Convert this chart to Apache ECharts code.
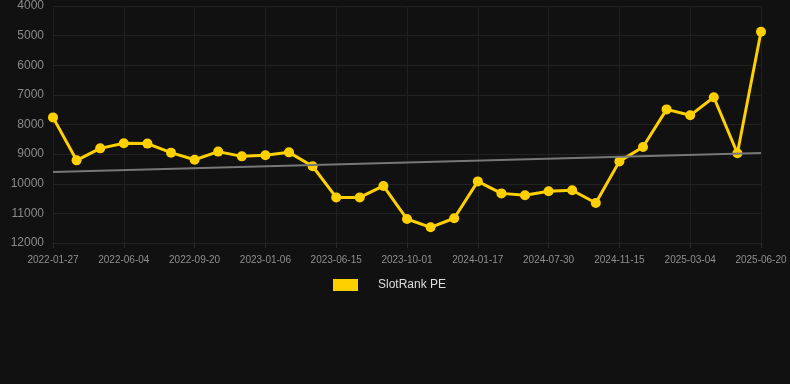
<!DOCTYPE html>
<html>
<head>
<meta charset="utf-8">
<script src="https://cdn.jsdelivr.net/npm/echarts@6/dist/echarts.min.js"></script>
<style>
html,body{margin:0;padding:0;background:#111111;}
#main{width:790px;height:384px;}
</style>
</head>
<body>
<div id="main"></div>
<script>
var categories = [
  "2022-01-27","2022-03-11","2022-04-23","2022-06-04","2022-07-10","2022-08-15",
  "2022-09-20","2022-10-26","2022-12-01","2023-01-06","2023-02-28","2023-04-22",
  "2023-06-15","2023-07-21","2023-08-26","2023-10-01","2023-11-06","2023-12-12",
  "2024-01-17","2024-03-22","2024-05-26","2024-07-30","2024-09-04","2024-10-10",
  "2024-11-15","2024-12-21","2025-01-26","2025-03-04","2025-04-09","2025-05-15",
  "2025-06-20"
];
var rankValues = [
  7760, 9210, 8805, 8635, 8645, 8950,
  9190, 8915, 9075, 9040, 8940, 9410,
  10460, 10460, 10075, 11190, 11470, 11165,
  9920, 10325, 10390, 10255, 10220, 10650,
  9245, 8760, 7490, 7690, 7080, 8970,
  4870
];
var trendEnds = [9600, 8960];
var yTicks = [4000, 12000, 1000];
var seriesName = "SlotRank PE";

var chart = echarts.init(document.getElementById('main'));
chart.setOption({
  backgroundColor: '#111111',
  animation: false,
  grid: { left: 53, right: 29, top: 6, bottom: 141, containLabel: false },
  legend: {
    bottom: 88,
    left: 328,
    itemWidth: 25,
    itemHeight: 12,
    icon: 'rect',
    textStyle: { color: '#dddddd', fontSize: 12, fontFamily: 'Liberation Sans, Arial, sans-serif', padding: [0, 0, 0, 15] },
    data: [seriesName]
  },
  xAxis: {
    type: 'category',
    data: categories,
    boundaryGap: false,
    axisLine: { show: true, lineStyle: { color: '#222222' } },
    axisTick: { show: true, interval: 2, alignWithLabel: true, lineStyle: { color: '#2a2a2a' } },
    axisLabel: { interval: 2, color: '#8f8f8f', fontSize: 10, fontFamily: 'Liberation Sans, Arial, sans-serif', margin: 12 },
    splitLine: { show: true, interval: 2, lineStyle: { color: '#1e1e1e', width: 1 } }
  },
  yAxis: {
    type: 'value',
    inverse: true,
    min: yTicks[0],
    max: yTicks[1],
    interval: yTicks[2],
    axisLine: { show: false },
    axisTick: { show: false },
    axisLabel: { color: '#8a8a8a', fontSize: 12, fontFamily: 'Liberation Sans, Arial, sans-serif', margin: 9,
      formatter: function (v) { return String(v); } },
    splitLine: { show: true, lineStyle: { color: '#222222', width: 1 } }
  },
  series: [
    {
      name: seriesName,
      type: 'line',
      data: rankValues,
      symbol: 'circle',
      symbolSize: 10,
      itemStyle: { color: '#ffd000' },
      lineStyle: { color: '#ffd000', width: 3 },
      markLine: {
        silent: true,
        symbol: ['none', 'none'],
        label: { show: false },
        lineStyle: { color: '#777777', width: 2, type: 'solid' },
        data: [[
          { coord: [categories[0], trendEnds[0]] },
          { coord: [categories[categories.length - 1], trendEnds[1]] }
        ]]
      }
    }
  ]
});
</script>
</body>
</html>
